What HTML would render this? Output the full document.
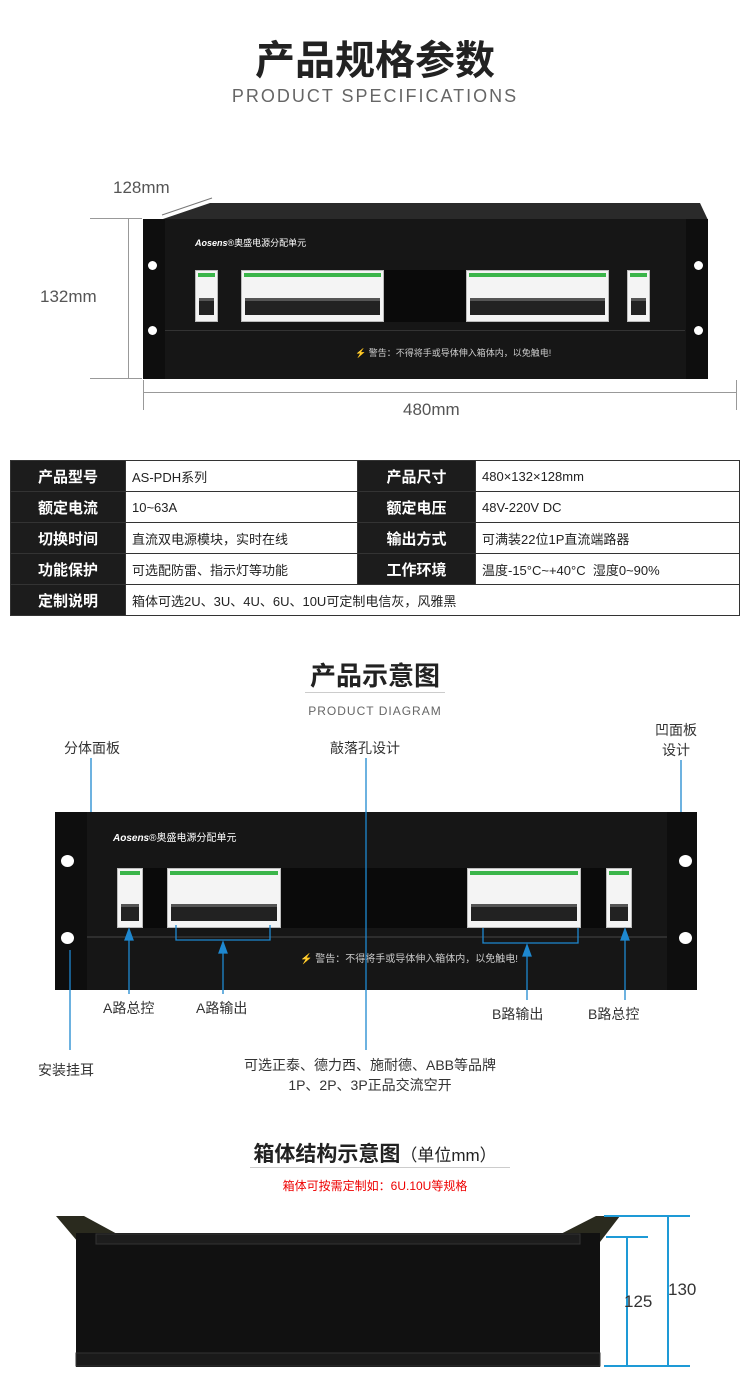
<!DOCTYPE html>
<html><head><meta charset="utf-8"><style>
*{margin:0;padding:0;box-sizing:border-box}
body{width:750px;height:1399px;background:#fff;position:relative;font-family:"Liberation Sans","Noto Sans CJK SC",sans-serif;overflow:hidden}
.a{position:absolute}
.t{color:#333}
.br{position:absolute;background:#f4f4f4;border:1px solid #bbb}
.br::before{content:"";position:absolute;left:2px;right:2px;top:2px;height:4px;background:#3bb54a}
.br::after{content:"";position:absolute;left:3px;right:3px;bottom:6px;height:14px;background:#222;border-top:3px solid #555}
table{border-collapse:collapse;position:absolute;left:10px;top:460px;width:730px}
td{border:1px solid #333;height:31px;font-size:13px;color:#222;padding-left:6px}
td.h{background:#1c1c1c;color:#fff;font-size:15px;font-weight:bold;text-align:center;padding:0}
.lbl{position:absolute;font-size:14px;color:#333}
</style></head><body>
<div class="a t" style="left:0;width:750px;top:28px;text-align:center;font-size:40px;font-weight:bold;color:#222">产品规格参数</div>
<div class="a" style="left:0;width:750px;top:86px;text-align:center;font-size:18px;letter-spacing:2px;color:#666">PRODUCT SPECIFICATIONS</div>

<!-- panel 1 -->
<div class="a" style="left:113px;top:178px;font-size:17px;color:#555">128mm</div>
<div class="a" style="left:40px;top:287px;font-size:17px;color:#555">132mm</div>
<div class="a" style="left:403px;top:400px;font-size:17px;color:#555">480mm</div>
<div class="a" style="left:128px;top:219px;width:1px;height:160px;background:#999"></div>
<div class="a" style="left:90px;top:218px;width:52px;height:1px;background:#999"></div>
<div class="a" style="left:90px;top:378px;width:52px;height:1px;background:#999"></div>
<div class="a" style="left:143px;top:392px;width:593px;height:1px;background:#999"></div>
<div class="a" style="left:143px;top:380px;width:1px;height:30px;background:#999"></div>
<div class="a" style="left:736px;top:380px;width:1px;height:30px;background:#999"></div>
<svg class="a" style="left:0;top:0" width="750" height="420"><line x1="162" y1="215" x2="212" y2="198" stroke="#777"/><polygon points="160,220 210,203 700,203 708,220" fill="#2a2a2a"/></svg>
<div class="a" style="left:143px;top:219px;width:565px;height:160px;background:#161616"></div>
<div class="a" style="left:143px;top:219px;width:22px;height:160px;background:#0e0e0e"></div>
<div class="a" style="left:686px;top:219px;width:22px;height:160px;background:#0e0e0e"></div>
<div class="a" style="left:148px;top:261px;width:9px;height:9px;border-radius:50%;background:#fff"></div>
<div class="a" style="left:148px;top:326px;width:9px;height:9px;border-radius:50%;background:#fff"></div>
<div class="a" style="left:694px;top:261px;width:9px;height:9px;border-radius:50%;background:#fff"></div>
<div class="a" style="left:694px;top:326px;width:9px;height:9px;border-radius:50%;background:#fff"></div>
<div class="a" style="left:195px;top:236px;font-size:9px;color:#fff;font-style:italic;font-weight:bold">Aosens<span style="font-style:normal;font-weight:normal">®奥盛电源分配单元</span></div>
<div class="a" style="left:270px;top:270px;width:200px;height:52px;background:#0a0a0a"></div>
<div class="br" style="left:195px;top:270px;width:23px;height:52px"></div>
<div class="br" style="left:241px;top:270px;width:143px;height:52px"></div>
<div class="br" style="left:466px;top:270px;width:143px;height:52px"></div>
<div class="br" style="left:627px;top:270px;width:23px;height:52px"></div>
<div class="a" style="left:165px;top:330px;width:520px;height:1px;background:#333"></div>
<div class="a" style="left:355px;top:346px;font-size:9px;color:#ccc">⚡ 警告：不得将手或导体伸入箱体内，以免触电!</div>

<table>
<tr><td class="h" style="width:115px">产品型号</td><td style="width:232px">AS-PDH系列</td><td class="h" style="width:118px">产品尺寸</td><td>480×132×128mm</td></tr>
<tr><td class="h">额定电流</td><td>10~63A</td><td class="h">额定电压</td><td>48V-220V DC</td></tr>
<tr><td class="h">切换时间</td><td>直流双电源模块，实时在线</td><td class="h">输出方式</td><td>可满装22位1P直流端路器</td></tr>
<tr><td class="h">功能保护</td><td>可选配防雷、指示灯等功能</td><td class="h">工作环境</td><td>温度-15°C~+40°C &nbsp;湿度0~90%</td></tr>
<tr><td class="h">定制说明</td><td colspan="3">箱体可选2U、3U、4U、6U、10U可定制电信灰，风雅黑</td></tr>
</table>

<div class="a" style="left:0;width:750px;top:656px;text-align:center;font-size:26px;font-weight:bold;color:#222">产品示意图</div>
<div class="a" style="left:305px;top:692px;width:140px;height:1px;background:#ccc"></div>
<div class="a" style="left:0;width:750px;top:704px;text-align:center;font-size:12px;letter-spacing:1px;color:#666">PRODUCT DIAGRAM</div>

<!-- panel 2 -->
<div class="a" style="left:55px;top:812px;width:642px;height:178px;background:#161616"></div>
<div class="a" style="left:55px;top:812px;width:32px;height:178px;background:#0e0e0e"></div>
<div class="a" style="left:667px;top:812px;width:30px;height:178px;background:#0e0e0e"></div>
<div class="a" style="left:61px;top:855px;width:13px;height:12px;border-radius:50%;background:#fff"></div>
<div class="a" style="left:61px;top:932px;width:13px;height:12px;border-radius:50%;background:#fff"></div>
<div class="a" style="left:679px;top:855px;width:13px;height:12px;border-radius:50%;background:#fff"></div>
<div class="a" style="left:679px;top:932px;width:13px;height:12px;border-radius:50%;background:#fff"></div>
<div class="a" style="left:113px;top:829px;font-size:10px;color:#fff;font-style:italic;font-weight:bold">Aosens<span style="font-style:normal;font-weight:normal">®奥盛电源分配单元</span></div>
<div class="a" style="left:143px;top:868px;width:470px;height:60px;background:#0a0a0a"></div>
<div class="br" style="left:117px;top:868px;width:26px;height:60px"></div>
<div class="br" style="left:167px;top:868px;width:114px;height:60px"></div>
<div class="br" style="left:467px;top:868px;width:114px;height:60px"></div>
<div class="br" style="left:606px;top:868px;width:26px;height:60px"></div>
<div class="a" style="left:87px;top:936px;width:580px;height:2px;background:#2e2e2e"></div>
<div class="a" style="left:300px;top:950px;font-size:10px;color:#ccc">⚡ 警告：不得将手或导体伸入箱体内，以免触电!</div>
<div class="lbl" style="left:64px;top:738px">分体面板</div>
<div class="lbl" style="left:330px;top:738px">敲落孔设计</div>
<div class="lbl" style="left:655px;top:720px;text-align:center;line-height:20px">凹面板<br>设计</div>
<div class="lbl" style="left:103px;top:998px">A路总控</div>
<div class="lbl" style="left:196px;top:998px">A路输出</div>
<div class="lbl" style="left:492px;top:1004px">B路输出</div>
<div class="lbl" style="left:588px;top:1004px">B路总控</div>
<div class="lbl" style="left:38px;top:1060px">安装挂耳</div>
<div class="lbl" style="left:225px;top:1055px;width:290px;text-align:center;line-height:20px">可选正泰、德力西、施耐德、ABB等品牌<br>1P、2P、3P正品交流空开</div>
<svg class="a" style="left:0;top:0" width="750" height="1100">
<g stroke="#1e88d0" stroke-width="1.3" fill="#1e88d0">
<line x1="91" y1="758" x2="91" y2="812"/>
<line x1="366" y1="758" x2="366" y2="1050"/>
<line x1="681" y1="760" x2="681" y2="812"/>
<line x1="129" y1="932" x2="129" y2="994"/><polygon points="125,940 133,940 129,929"/>
<polyline points="176,925 176,940 270,940 270,925" fill="none"/>
<line x1="223" y1="945" x2="223" y2="994"/><polygon points="219,953 227,953 223,942"/>
<polyline points="483,928 483,943 578,943 578,928" fill="none"/>
<line x1="527" y1="948" x2="527" y2="1000"/><polygon points="523,956 531,956 527,945"/>
<line x1="625" y1="932" x2="625" y2="1000"/><polygon points="621,940 629,940 625,929"/>
<line x1="70" y1="950" x2="70" y2="1050"/>
</g></svg>

<div class="a" style="left:0;width:750px;top:1138px;text-align:center;font-size:21px;font-weight:bold;color:#222">箱体结构示意图<span style="font-weight:normal;font-size:17px">（单位mm）</span></div>
<div class="a" style="left:250px;top:1167px;width:260px;height:1px;background:#ccc"></div>
<div class="a" style="left:0;width:750px;top:1177px;text-align:center;font-size:12px;color:#e00">箱体可按需定制如：6U.10U等规格</div>

<svg class="a" style="left:0;top:1190px" width="750" height="209">
<polygon points="56,26 84,26 132,52 78,52" fill="#2a2a1e"/>
<polygon points="620,26 596,26 545,52 600,52" fill="#2a2a1e"/>
<rect x="76" y="43" width="524" height="134" fill="#111"/>
<rect x="96" y="44" width="484" height="10" fill="#1d1d1d" stroke="#333"/>
<rect x="76" y="163" width="524" height="13" fill="#1a1a1a" stroke="#333"/>
<g stroke="#1e9ad6" stroke-width="2">
<line x1="604" y1="26" x2="690" y2="26"/><line x1="604" y1="176" x2="690" y2="176"/>
<line x1="668" y1="26" x2="668" y2="176"/>
<line x1="606" y1="47" x2="648" y2="47"/><line x1="627" y1="47" x2="627" y2="176"/>
</g>
<text x="624" y="117" font-size="17" fill="#333" font-family="Liberation Sans">125</text>
<text x="668" y="105" font-size="17" fill="#333" font-family="Liberation Sans">130</text>
</svg>
</body></html>
